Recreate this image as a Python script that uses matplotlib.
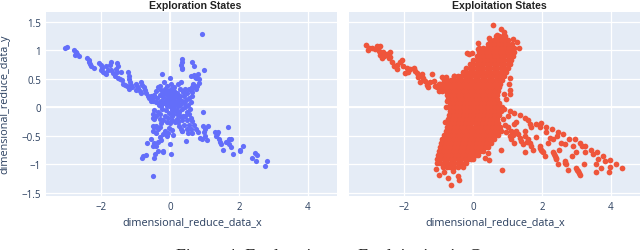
import matplotlib
matplotlib.use("Agg")
import matplotlib.pyplot as plt

W, H = 640, 251
BG = "#E5ECF6"
INK = "#2a3f5f"
BLUE = "#636EFA"
RED = "#EF553B"

x_ticks = [-2, 0, 2, 4]
x_tick_labels = ["\u22122", "0", "2", "4"]
y_ticks = [-1.5, -1, -0.5, 0, 0.5, 1, 1.5]
y_tick_labels = ["\u22121.5", "\u22121", "\u22120.5", "0", "0.5", "1", "1.5"]
x_label = "dimensional_reduce_data_x"
y_label = "dimensional_reduce_data_y"
titles = ["Exploration States", "Exploitation States"]
caption = "Figure 4: Exploration vs. Exploitation in Game"

explore_left_arm = [
 (-3.05,1.04),(-3.0,1.06),(-2.78,1.0),(-2.73,.97),(-2.75,.92),(-2.7,.93),(-2.63,.9),(-2.72,.95),
 (-2.4,.87),(-2.36,.84),(-2.35,.8),(-2.32,.76),(-2.3,.72),(-2.2,.7),(-2.05,.78),(-2.0,.75),(-1.98,.7),
 (-2.0,.65),(-1.95,.62),(-1.9,.6),(-1.85,.58),(-1.85,.72),(-1.8,.65),(-1.75,.75),(-1.72,.8),(-1.7,.65),
 (-1.65,.6),(-1.6,.55),(-1.58,.68),(-1.55,.62),(-1.55,.78),(-1.5,.72),(-1.52,.52),(-1.45,.5),(-1.42,.62),
 (-1.4,.48),(-1.35,.42),(-1.3,.4),(-1.25,.38),(-1.22,.62),(-1.2,.55),(-1.18,.5),(-1.15,.45),(-1.12,.4),
 (-1.1,.35),(-1.18,.33),(-1.0,.3),(-.98,.42),(-.95,.38),(-.92,.34),(-.88,.28),(-.85,.25),(-.83,.45),
 (-.8,.4),(-.76,.35),(-.72,.3),(-.7,.25),(-.65,.2),(-.6,.16),(-.55,.2),(-.5,.12),
]
explore_center = [
 (-.55,.12),(-.5,.18),(-.45,.22),(-.42,.1),(-.4,.28),(-.38,.16),(-.35,.35),(-.33,.05),(-.3,.22),(-.28,.38),
 (-.27,.12),(-.25,.3),(-.22,-.02),(-.2,.18),(-.18,.45),(-.17,.08),(-.15,.32),(-.13,.25),(-.12,-.05),(-.1,.15),
 (-.08,.38),(-.07,.05),(-.05,.28),(-.03,.2),(-.02,-.1),(0,.1),(.02,.42),(.03,.32),(.04,0),(.05,.22),(.07,-.15),
 (.08,.12),(.1,.05),(.12,.35),(.12,.28),(.14,-.05),(.15,.18),(.17,.08),(.19,-.12),(.2,.25),(.22,.02),(.24,.42),
 (.25,.14),(.27,-.08),(.28,.32),(.3,.2),(.3,.05),(.32,.45),(.34,-.02),(.35,.12),(.37,.27),(.38,-.15),(.4,.08),
 (.42,.2),(.44,.33),(.45,0),(.47,.13),(.5,.25),(.5,-.08),(.53,.05),(.55,.17),(.58,-.03),(.6,.32),(.62,.1),
 (-.3,.1),(-.25,.02),(-.2,.08),(-.15,.12),(-.1,.02),(-.05,.1),(0,.02),(0,.18),(.05,.08),(.05,-.05),(.1,.15),
 (.1,-.03),(.15,.05),(.2,.12),(.2,-.04),(.25,.06),(-.1,.22),(0,.26),(.08,.3),(.16,.24),(.24,.22),(-.2,.25),
 (-.45,-.05),(-.48,-.12),(-.5,-.18),(-.45,-.2),(-.4,-.15),(-.35,-.08),(-.3,-.2),(-.28,-.12),(-.25,-.28),
 (-.2,-.22),(-.15,-.15),(-.1,-.25),(-.05,-.18),(0,-.28),(.05,-.22),(.1,-.12),(.15,-.25),(.2,-.2),
 (-.5,-.33),(-.45,-.35),(-.4,-.32),(-.35,-.38),(-.5,-.42),(-.42,-.45),(-.3,-.35),(-.2,-.47),(-.15,-.42),
 (-.1,-.5),(-.05,-.45),(-.02,-.36),(.05,-.4),(.08,-.48),(-.3,-.52),(-.35,-.6),(-.25,-.58),
 (.22,-.25),(.27,-.32),(.32,-.38),(.3,-.15),(.36,-.22),(.42,-.3),(.48,-.38),(.53,-.45),(.45,-.15),(.5,-.22),
 (.56,-.3),(.6,-.37),(.65,-.45),(.55,-.12),(.6,-.18),(.65,-.24),(.7,-.3),(.75,-.37),(.8,-.44),(.35,-.42),
]
explore_upper = [
 (.94,1.29),(.35,.85),(.34,.79),(.33,.75),(.36,.7),(.34,.67),(.63,.8),(.69,.72),(.98,.66),(-.24,.58),(.01,.51),
 (.8,.58),(.7,.57),(.62,.55),(.76,.52),(.85,.5),(.74,.54),(.68,.42),(.78,.38),(.75,.32),(.63,.27),(.65,.2),
 (.65,.35),(.68,.4),(.55,.32),(.83,.43),
]
explore_lower = [
 (-.48,-1.21),(-.82,-.89),(-.78,-.85),(-.7,-.84),(-.47,-.89),(-.44,-.82),(-.36,-.77),(-.2,-.77),(-.19,-.79),
 (.03,-.82),(-.68,-.62),(-.56,-.56),(-.5,-.68),(-.46,-.63),(-.41,-.67),(.01,-.65),(.47,-.59),(.35,-.42),
 (.95,-.08),
]
explore_right_arm = [
 (1.68,-.35),(.92,-.56),(.87,-.54),(.97,-.32),(1.02,-.37),(1.11,-.32),(1.0,-.44),(1.02,-.5),(1.08,-.58),
 (1.31,-.44),(1.35,-.5),(1.4,-.44),(1.43,-.56),(1.48,-.65),(1.53,-.74),(1.36,-.46),(1.45,-.6),
 (1.62,-.6),(1.7,-.56),(1.77,-.55),(1.7,-.65),(1.77,-.7),(1.82,-.81),(2.02,-.76),(2.04,-.74),(2.12,-.67),
 (2.39,-.88),(2.47,-.8),(2.52,-.84),(2.49,-.94),(2.82,-.94),(2.75,-1.03),
]

exploit_row_y = [1.26,1.19,1.12,1.05,.98,.91,.84,.77,.70,.63,.56,.49,.42,.35,.28,.21,.14,.07,0,-.07,-.14,-.21,
                 -.28,-.35,-.42,-.49,-.56,-.63,-.70,-.77,-.84,-.91,-.98,-1.05]
exploit_row_x = [
 [.66,.76,.86,.93],
 [.5,.6,.7,.8,.9,1.0],
 [.42,.52,.62,.72,.82,.92,1.02,1.12],
 [.3,.4,.5,.6,.7,.8,.9,1.0,1.1,1.2],
 [.17,.27,.37,.47,.57,.67,.77,.87,.97,1.07,1.2],
 [.1,.2,.3,.4,.5,.6,.7,.8,.9,1.0,1.1,1.17],
 [.01,.11,.21,.31,.41,.51,.61,.71,.81,.91,1.01,1.11],
 [-.1,0,.1,.2,.3,.4,.5,.6,.7,.8,.9,1.0,1.07],
 [-.2,-.1,0,.1,.2,.3,.4,.5,.6,.7,.8,.9,1.0],
 [-.3,-.2,-.1,0,.1,.2,.3,.4,.5,.6,.7,.8,.95,.88],
 [-.55,-.45,-.35,-.25,-.15,-.05,.05,.15,.25,.35,.45,.55,.65,.75,.83,.9],
 [-.85,-.75,-.65,-.55,-.45,-.35,-.25,-.15,-.05,.05,.15,.25,.35,.45,.55,.65,.75,.83],
 [-1.0,-.9,-.8,-.7,-.6,-.5,-.4,-.3,-.2,-.1,0,.1,.2,.3,.4,.5,.6,.7,.78],
 [-.95,-.85,-.75,-.65,-.55,-.45,-.35,-.25,-.15,-.05,.05,.15,.25,.35,.45,.55,.65,.74],
 [-.9,-.8,-.7,-.6,-.5,-.4,-.3,-.2,-.1,0,.1,.2,.3,.4,.5,.6,.72],
 [-.75,-.65,-.55,-.45,-.35,-.25,-.15,-.05,.05,.15,.25,.35,.45,.55,.69,.62],
 [-.72,-.62,-.52,-.42,-.32,-.22,-.12,-.02,.08,.18,.28,.38,.48,.58,.7],
 [-.68,-.58,-.48,-.38,-.28,-.18,-.08,.02,.12,.22,.32,.42,.52,.62,.75],
 [-.7,-.6,-.5,-.4,-.3,-.2,-.1,0,.1,.2,.3,.4,.5,.6,.7,.85,.78],
 [-.68,-.58,-.48,-.38,-.28,-.18,-.08,.02,.12,.22,.32,.42,.52,.62,.72,.82],
 [-.7,-.6,-.5,-.4,-.3,-.2,-.1,0,.1,.2,.3,.4,.5,.6,.68,.75],
 [-.72,-.62,-.52,-.42,-.32,-.22,-.12,-.02,.08,.18,.28,.38,.48,.58,.7,.64],
 [-.72,-.65,-.55,-.45,-.35,-.25,-.15,-.05,.05,.15,.25,.35,.45,.55,.65,.72],
 [-.76,-.66,-.56,-.46,-.36,-.26,-.16,-.06,.04,.14,.24,.34,.44,.54,.64,.78,.71],
 [-.8,-.7,-.6,-.5,-.4,-.3,-.2,-.1,0,.1,.2,.3,.4,.5,.6,.7,.8],
 [-.85,-.75,-.65,-.55,-.45,-.35,-.25,-.15,-.05,.05,.15,.25,.35,.45,.55,.65,.72],
 [-.9,-.8,-.7,-.6,-.5,-.4,-.3,-.2,-.1,0,.1,.2,.3,.4,.5,.62],
 [-.93,-.83,-.73,-.63,-.53,-.43,-.33,-.23,-.13,-.03,.07,.17,.27,.37,.52,.45],
 [-.96,-.86,-.76,-.66,-.56,-.46,-.36,-.26,-.16,-.06,.04,.14,.24,.34,.42],
 [-.99,-.89,-.79,-.69,-.59,-.49,-.39,-.29,-.19,-.09,.01,.11,.21,.3],
 [-1.03,-.93,-.83,-.73,-.63,-.53,-.43,-.33,-.23,-.13,-.03,.07,.15],
 [-1.05,-.95,-.85,-.75,-.65,-.55,-.45,-.35,-.25,-.15,-.05,0],
 [-1.05,-.95,-.85,-.75,-.65,-.55,-.45,-.35,-.2],
 [-.87,-.77,-.67,-.55,-.45,-.3],
]
exploit_left_arm = [
 (-3.11,1.09),(-3.04,1.05),(-2.95,1.04),(-3.07,1.0),(-2.8,1.07),(-2.72,1.07),(-2.75,.99),(-2.7,.92),(-2.66,.86),
 (-2.59,.91),(-2.51,.94),(-2.41,.98),(-2.41,.89),(-2.36,.79),(-2.31,.73),(-2.2,.75),(-2.07,.83),(-2.03,.73),
 (-1.98,.61),(-1.83,.67),(-1.73,.7),(-1.68,.64),(-1.59,.53),(-1.49,.59),(-1.54,.44),(-1.39,.47),(-1.3,.35),
 (-1.2,.59),(-1.15,.47),(-1.0,.29),(-.91,.53),(-.78,.53),(-.57,.56),(-1.1,.38),(-1.25,.44),(-.96,.41),(-.81,.38),
 (-1.93,.7),(-2.22,.67),(-2.12,.79),(-.77,.12),(-.79,0),(-2.85,1.02),(-2.62,.98),(-2.46,.86),(-1.9,.62),(-1.62,.6),
 (-1.45,.52),(-1.34,.4),(-1.05,.35),
]
exploit_extras = [
 (.57,1.45),(.8,1.37),(.9,1.33),(1.17,1.21),(1.27,1.14),(1.32,1.04),(.47,1.22),(.69,1.28),(.13,1.13),(.18,1.04),
 (.15,1.02),(-.17,.96),(-.04,.96),(-.12,.93),(1.08,.51),(1.03,.41),(1.07,.3),(1.08,.23),(.9,.23),(.95,.14),
 (-.65,-1.37),(-.98,-1.19),(-1.08,-1.08),(-.73,-1.23),(-.4,-1.28),(-.45,-1.2),(.81,-.74),(.83,-1.09),(.47,-.93),
 (.35,-.88),(.43,-.8),(-.81,-.26),(-.84,-1.14),(-.6,-1.12),
]
exploit_right_arm = [
 (1.01,-.35),(.96,-.44),(1.06,-.5),(1.11,-.56),(1.2,-.62),(1.25,-.41),(1.3,-.47),(1.35,-.53),(1.4,-.59),(1.45,-.65),
 (1.59,-.56),(1.64,-.62),(1.69,-.68),(1.74,-.74),(1.93,-.68),(1.98,-.74),(2.03,-.79),(2.08,-.85),(2.32,-.79),
 (2.37,-.85),(2.42,-.91),(2.47,-1.0),(2.66,-.94),(2.71,-1.0),(2.76,-1.09),(3.0,-1.06),(3.05,-1.12),(3.1,-1.18),
 (1.52,-.79),(1.83,-.52),(2.17,-.62),(2.51,-.74),(2.87,-.86),(3.22,-1.0),(3.58,-1.14),(3.94,-1.14),(4.34,-1.06),
 (3.97,-1.05),(4.15,-1.0),(3.97,-.92),(3.83,-.94),(3.78,-.86),(3.63,-.91),(3.61,-.79),(3.58,-1.0),(3.73,-1.06),
 (3.44,-.74),(3.49,-.82),(3.26,-.68),(3.24,-.78),(3.1,-.62),(3.15,-.68),(2.95,-.56),(2.9,-.68),(3.0,-.79),(2.78,-.55),
 (2.61,-.47),(2.66,-.65),(2.47,-.44),(2.56,-.62),(2.44,-.5),(2.29,-.38),(2.22,-.53),(2.32,-.56),(2.13,-.35),(2.13,-.44),
 (1.98,-.28),(1.93,-.35),(1.83,-.29),(1.69,-.35),(1.51,-.41),(1.5,-.18),(1.59,-.22),(1.64,-.29),(1.35,-.14),(1.2,-.1),
 (1.06,-.06),(.91,-.03),(.86,-.21),(1.01,-.15),(1.25,-.25),(1.2,-.29),(.92,-.3),(1.1,-.42),(1.16,-.48),(1.5,-.5),
 (1.56,-.6),(1.95,-.71),(2.0,-.77),(2.35,-.82),(2.4,-.88),(2.68,-.97),(3.03,-1.09),(3.08,-1.15),
]

explore_pts = explore_left_arm + explore_center + explore_upper + explore_lower + explore_right_arm
exploit_pts = [(x, y) for y, xs in zip(exploit_row_y, exploit_row_x) for x in xs]
exploit_pts += exploit_left_arm + exploit_extras + exploit_right_arm

plt.rcParams["font.family"] = ["Open Sans", "DejaVu Sans"]
fig = plt.figure(figsize=(W / 100, H / 100), dpi=100)


def panel(l, r, pts, color, left_ticks, size):
    ax = fig.add_axes([l / W, 1 - 197.3 / H, (r - l) / W, (197.3 - 13.3) / H], facecolor=BG)
    ax.set_xlim(-3.6, 4.85)
    ax.set_ylim(-1.56, 1.67)
    for s in ax.spines.values():
        s.set_visible(False)
    ax.set_xticks(x_ticks, x_tick_labels)
    ax.set_yticks(y_ticks, y_tick_labels if left_ticks else [])
    ax.grid(True, color="white", lw=0.9)
    ax.set_axisbelow(True)
    ax.axhline(0, color="white", lw=1.4, zorder=1)
    ax.axvline(0, color="white", lw=1.4, zorder=1)
    ax.tick_params(length=0, labelsize=7.0, labelcolor=INK, pad=3.5)
    ax.scatter([p[0] for p in pts], [p[1] for p in pts], s=size, color=color, linewidths=0, zorder=3)
    return ax


panel(46, 337, explore_pts, BLUE, True, 14)
panel(349.3, 640, exploit_pts, RED, False, 17)

for cx, t in zip([195, 499.5], titles):
    fig.text(cx / W, 1 - 6 / H, t, ha="center", va="center", fontsize=7.6, fontweight="bold",
             family="Liberation Sans", color="#222222")
for cx in [192, 495.5]:
    fig.text(cx / W, 1 - 222.5 / H, x_label, ha="center", va="center", fontsize=7.8, color=INK)
fig.text(5 / W, 1 - 104.5 / H, y_label, rotation=90, ha="center", va="center", fontsize=7.8, color=INK)
fig.text(176 / W, 1 - 248.5 / H, caption, ha="left", va="top", fontsize=12.8, family="Liberation Serif", color="#222222")

fig.savefig("out.png", dpi=100)
